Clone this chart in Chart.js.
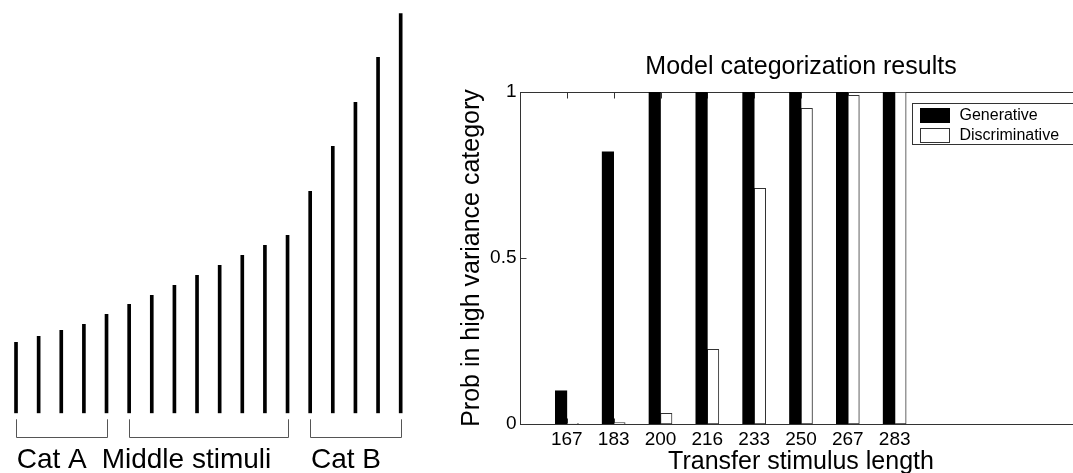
<!DOCTYPE html>
<html>
<head>
<meta charset="utf-8">
<script src="https://cdn.jsdelivr.net/npm/chart.js@4.4.0/dist/chart.umd.min.js"></script>
<style>
  html, body { margin: 0; padding: 0; background: #fff; overflow: hidden; width: 1073px; height: 473px; }
  #stimuli { position: absolute; left: 0; top: 0; }
  #results { position: absolute; left: 440px; top: 0; }
</style>
</head>
<body>
<canvas id="stimuli" width="420" height="473"></canvas>
<canvas id="results" width="722" height="480"></canvas>
<script>
// left panel: line lengths of the training stimuli (relative units)
const stimulusLengths = [71, 77, 83, 89, 99, 109, 118, 128, 138, 148, 158, 168, 178, 222, 267, 311, 356, 400];
const groupNames = ['Cat A', 'Middle stimuli', 'Cat B'];
const groupFirst = [0, 5, 13];
const groupLast = [4, 12, 17];

// right panel: model results
const transferLengths = ['167', '183', '200', '216', '233', '250', '267', '283'];
const generativeProb = [0.10, 0.82, 1, 1, 1, 1, 1, 1];
const discriminativeProb = [0.002, 0.004, 0.032, 0.225, 0.71, 0.951, 0.99, 1];
const yTicks = [0, 0.5, 1];

const FONT = "'Liberation Sans', Arial, Helvetica, sans-serif";
Chart.defaults.font.family = FONT;
Chart.defaults.color = '#000';

// brackets + group names under the stimulus lines
const bracketPlugin = {
    id: 'brackets',
    afterDraw(chart) {
        const ctx = chart.ctx;
        const xs = chart.scales.x;
        const base = chart.chartArea.bottom;
        const top = base + 6;
        const bot = Math.round(base + 24) + 0.5;
        const textShift = [0.7, -27.5, 0.8];
        ctx.save();
        ctx.strokeStyle = '#555';
        ctx.lineWidth = 1;
        ctx.fillStyle = '#000';
        ctx.font = '28px ' + FONT;
        ctx.textBaseline = 'alphabetic';
        ctx.textAlign = 'left';
        groupNames.forEach((name, i) => {
            const x0 = Math.round(xs.getPixelForValue(groupFirst[i])) + 0.5;
            const x1 = Math.round(xs.getPixelForValue(groupLast[i])) + 0.5;
            ctx.beginPath();
            ctx.moveTo(x0, top);
            ctx.lineTo(x0, bot);
            ctx.lineTo(x1, bot);
            ctx.lineTo(x1, top);
            ctx.stroke();
            ctx.fillText(name, xs.getPixelForValue(groupFirst[i]) + textShift[i], base + 54.7);
        });
        ctx.restore();
    }
};

// matlab style axes box with inward ticks
const boxPlugin = {
    id: 'matlabBox',
    beforeDatasetsDraw(chart) {
        const { ctx, chartArea: a, scales } = chart;
        const L = Math.round(a.left) + 0.5, R = Math.round(a.right) + 0.5;
        const T = Math.round(a.top) + 0.5, B = Math.round(a.bottom) + 0.5;
        ctx.save();
        ctx.strokeStyle = '#333';
        ctx.lineWidth = 1;
        ctx.strokeRect(L, T, R - L, B - T);
        ctx.beginPath();
        transferLengths.forEach((_, i) => {
            const px = Math.round(scales.x.getPixelForValue(i + 1)) + 0.5;
            ctx.moveTo(px, B); ctx.lineTo(px, B - 6);
            ctx.moveTo(px, T); ctx.lineTo(px, T + 6);
        });
        yTicks.forEach(v => {
            const py = Math.round(scales.y.getPixelForValue(v)) + 0.5;
            ctx.moveTo(L, py); ctx.lineTo(L + 6, py);
            ctx.moveTo(R, py); ctx.lineTo(R - 6, py);
        });
        ctx.stroke();
        ctx.restore();
    }
};

// boxed legend inside the axes, top right
const legendPlugin = {
    id: 'boxLegend',
    afterDraw(chart) {
        const { ctx, chartArea: a } = chart;
        const x = Math.round(a.right - 170.3) + 0.5;
        const y = Math.round(a.top + 11.3) + 0.5;
        ctx.save();
        ctx.fillStyle = '#fff';
        ctx.fillRect(x, y, 164, 41);
        ctx.strokeStyle = '#333';
        ctx.lineWidth = 1;
        ctx.strokeRect(x, y, 164, 41);
        ctx.font = '16px ' + FONT;
        ctx.textBaseline = 'middle';
        chart.data.datasets.forEach((ds, i) => {
            const cy = y + 12 + i * 20;
            ctx.fillStyle = ds.backgroundColor;
            ctx.fillRect(x + 8, cy - 7, 29, 14);
            ctx.strokeStyle = ds.borderColor;
            ctx.strokeRect(x + 8, cy - 7, 29, 14);
            ctx.fillStyle = '#000';
            ctx.fillText(ds.label, x + 47, cy + 0.5);
        });
        ctx.restore();
    }
};

new Chart(document.getElementById('stimuli'), {
    type: 'bar',
    data: {
        labels: stimulusLengths.map((_, i) => i + 1),
        datasets: [{
            data: stimulusLengths,
            backgroundColor: '#000',
            borderWidth: 0,
            barThickness: 3
        }]
    },
    options: {
        responsive: false,
        animation: false,
        events: [],
        layout: { padding: { left: 4.7, right: 8, top: 13.3, bottom: 59.7 } },
        plugins: { legend: { display: false }, tooltip: { enabled: false } },
        scales: {
            x: { display: false },
            y: { display: false, min: 0, max: 400 }
        }
    },
    plugins: [bracketPlugin]
});

new Chart(document.getElementById('results'), {
    type: 'bar',
    data: {
        datasets: [
            {
                label: 'Generative',
                data: generativeProb.map((v, i) => ({ x: i + 1, y: v })),
                backgroundColor: '#000',
                borderColor: '#000',
                borderWidth: 0,
                barThickness: 11.5
            },
            {
                label: 'Discriminative',
                data: discriminativeProb.map((v, i) => ({ x: i + 1, y: v })),
                backgroundColor: '#fff',
                borderColor: '#333',
                borderWidth: 1,
                borderSkipped: false,
                barThickness: 11.5
            }
        ]
    },
    options: {
        responsive: false,
        animation: false,
        events: [],
        layout: { padding: 0 },
        plugins: {
            legend: { display: false },
            tooltip: { enabled: false },
            title: {
                display: true,
                text: 'Model categorization results',
                color: '#000',
                font: { size: 25, weight: 'normal' },
                padding: { top: 51.7, bottom: 10.3 }
            }
        },
        scales: {
            x: {
                type: 'linear',
                min: 0,
                max: 12,
                offset: false,
                grid: { display: false, drawTicks: false, offset: false },
                border: { display: false },
                afterBuildTicks: s => { s.ticks = transferLengths.map((_, i) => ({ value: i + 1 })); },
                ticks: {
                    autoSkip: false,
                    maxRotation: 0,
                    padding: 4.6,
                    color: '#000',
                    font: { size: 19 },
                    callback: v => transferLengths[v - 1]
                },
                title: {
                    display: true,
                    text: 'Transfer stimulus length',
                    color: '#000',
                    font: { size: 25 },
                    padding: { top: 0, bottom: 3.3 }
                },
                afterFit: s => { s.height = 56; }
            },
            y: {
                min: 0,
                max: 1,
                grid: { display: false, drawTicks: false },
                border: { display: false },
                afterBuildTicks: s => { s.ticks = yTicks.map(v => ({ value: v })); },
                ticks: {
                    padding: 3.5,
                    color: '#000',
                    font: { size: 19 },
                    callback: v => String(v)
                },
                title: {
                    display: true,
                    text: 'Prob in high variance category',
                    color: '#000',
                    font: { size: 25 },
                    padding: { top: 16.7, bottom: 0 }
                },
                afterFit: s => { s.width = 80; }
            },
            y2: {
                position: 'right',
                min: 0,
                max: 1,
                grid: { display: false },
                border: { display: false },
                ticks: { display: false },
                afterFit: s => { s.width = 80; }
            }
        }
    },
    plugins: [boxPlugin, legendPlugin]
});
</script>
</body>
</html>
